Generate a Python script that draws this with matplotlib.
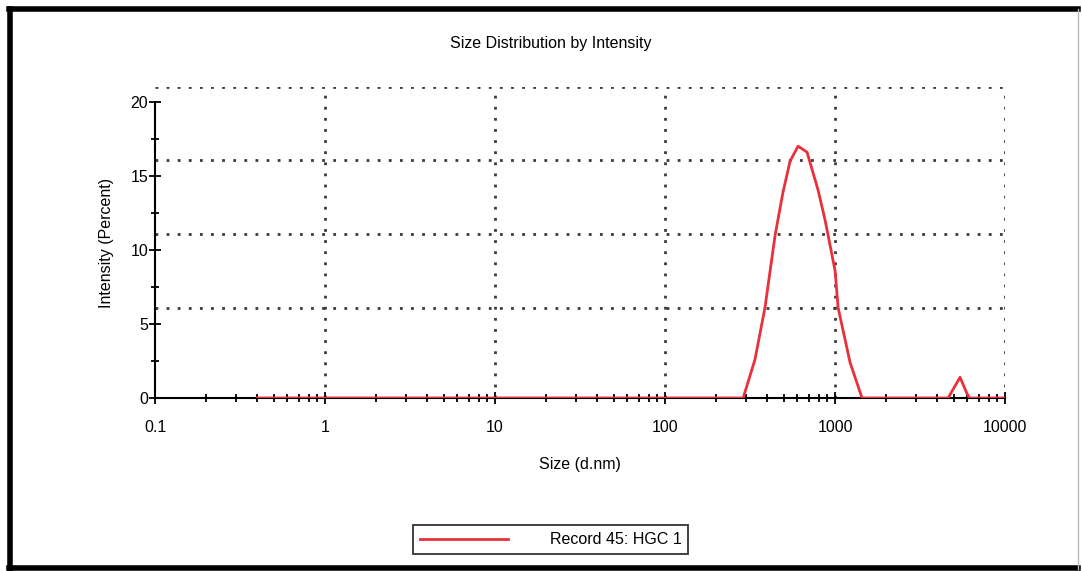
import matplotlib.pyplot as plt
from matplotlib.lines import Line2D
from matplotlib.ticker import LogLocator, NullFormatter, FixedLocator

plt.rcParams['font.family'] = ['Liberation Sans', 'DejaVu Sans']

# data
size_nm = [0.4, 1, 10, 100, 255, 288, 338, 387, 444, 494, 544, 606, 684,
           794, 874, 1000, 1042, 1225, 1441, 2000, 4624, 5433, 5970, 6180, 10000]
intensity = [0, 0, 0, 0, 0, 0, 2.6, 6.1, 11.0, 13.9, 16.0, 17.0, 16.6,
             14.05, 12.0, 8.6, 6.1, 2.4, 0, 0, 0, 1.4, 0.3, 0, 0]

x_ticks = [0.1, 1, 10, 100, 1000, 10000]
x_labels = ['0.1', '1', '10', '100', '1000', '10000']
y_ticks = [0, 5, 10, 15, 20]
grid_y = [6.1, 11.1, 16.1, 21]
grid_x = [1, 10, 100, 1000, 10000]

fig = plt.figure(figsize=(10.82, 5.71), dpi=100)
ax = fig.add_axes([0.1433, 0.303, 0.7856, 0.5447])

dot = (0, (1, 3))
for gy in grid_y:
    ax.axhline(gy, color='#3a3a3a', lw=2.0, ls=dot, zorder=1)
for gx in grid_x:
    ax.axvline(gx, color='#3a3a3a', lw=2.0, ls=dot, zorder=1)

ax.plot(size_nm, intensity, color='#e8313a', lw=2.0, zorder=3,
        label='Record 45: HGC 1')

ax.set_xscale('log')
ax.set_xlim(0.1, 10000)
ax.set_ylim(0, 21)
ax.set_xticks(x_ticks)
ax.set_xticklabels(x_labels)
ax.xaxis.set_minor_locator(LogLocator(base=10, subs=range(2, 10)))
ax.xaxis.set_minor_formatter(NullFormatter())
ax.set_yticks(y_ticks)
ax.yaxis.set_minor_locator(FixedLocator([2.5, 7.5, 12.5, 17.5]))

for s in ['top', 'right']:
    ax.spines[s].set_visible(False)
ax.spines['left'].set_bounds(0, 20)
ax.spines['left'].set_linewidth(1.5)
ax.spines['bottom'].set_linewidth(1.5)
ax.tick_params(which='both', direction='inout', color='black', width=1.3)
ax.tick_params(which='major', length=8, labelsize=11.5)
ax.tick_params(axis='x', which='major', pad=12)
ax.tick_params(axis='y', which='major', pad=1)
ax.tick_params(which='minor', length=6)

ax.set_xlabel('Size (d.nm)', fontsize=11.5, labelpad=16)
ax.set_ylabel('Intensity (Percent)', fontsize=11.5, labelpad=12)
fig.text(0.509, 0.924, 'Size Distribution by Intensity', ha='center',
         va='center', fontsize=11.5)

leg = fig.legend(loc='center', bbox_to_anchor=(0.509, 0.055), fontsize=11.5,
                 frameon=True, fancybox=False, edgecolor='black',
                 handlelength=5.5, handletextpad=2.6, borderpad=0.45,
                 borderaxespad=0)
leg.get_frame().set_linewidth(1.3)

# outer frame of the picture
fig.add_artist(Line2D([0.008, 0.996], [0.984, 0.984], color='black', lw=4,
                      transform=fig.transFigure))
fig.add_artist(Line2D([0.009, 0.009], [0.004, 0.984], color='black', lw=4,
                      transform=fig.transFigure))
fig.add_artist(Line2D([0.008, 0.996], [0.005, 0.005], color='black', lw=4,
                      transform=fig.transFigure))
fig.add_artist(Line2D([0.996, 0.996], [0.004, 0.984], color='#bbbbbb', lw=1,
                      transform=fig.transFigure))

fig.savefig('out.png', dpi=100)
